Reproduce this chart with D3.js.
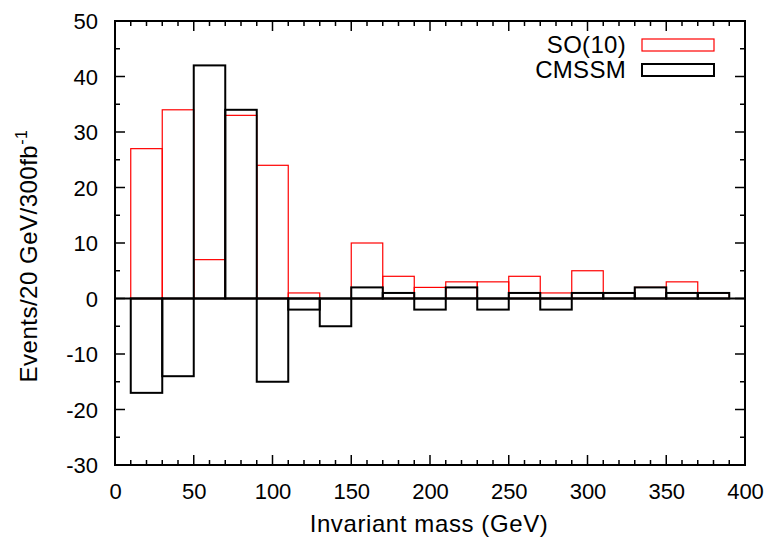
<!DOCTYPE html>
<html>
<head>
<meta charset="utf-8">
<script src="https://cdn.jsdelivr.net/npm/d3@7"></script>
<style>
  body { margin: 0; background: #fff; }
  text { font-family: "Liberation Sans", Arial, sans-serif; fill: #000; }
</style>
</head>
<body>
<div class="chart"></div>
<script>
// bin left edges (GeV), 20 GeV wide
var binStarts = [10, 30, 50, 70, 90, 110, 130, 150, 170, 190, 210, 230, 250, 270, 290, 310, 330, 350, 370];
var so10 = [27, 34, 7, 33, 24, 1, 0, 10, 4, 2, 3, 3, 4, 1, 5, 1, 2, 3, 1];
var cmssm = [-17, -14, 42, 34, -15, -2, -5, 2, 1, -2, 2, -2, 1, -2, 1, 1, 2, 1, 1];
var xTicks = [0, 50, 100, 150, 200, 250, 300, 350, 400];
var yTicks = [-30, -20, -10, 0, 10, 20, 30, 40, 50];
var binWidth = 20;

var svgWidth = 773, svgHeight = 544;
var margin = { top: 21, right: 28, bottom: 79, left: 115 };
var width = svgWidth - margin.left - margin.right;
var height = svgHeight - margin.top - margin.bottom;

var svg = d3.select('.chart')
    .append('svg')
    .attr('width', svgWidth)
    .attr('height', svgHeight);

var chart = svg.append('g')
    .attr('transform', 'translate(' + margin.left + ',' + margin.top + ')');

var x = d3.scaleLinear().domain([0, 400]).range([0, width]);
var y = d3.scaleLinear().domain([-30, 50]).range([height, 0]);

// minor + major ticks on all four sides, pointing inward
var xMinor = d3.range(0, 401, 10);
var yMinor = d3.range(-30, 51, 5);

function drawTicks(cls, vals, isX, major) {
    var len = major ? 10 : 5;
    chart.selectAll('.' + cls)
        .data(vals)
        .enter()
        .append('g')
        .each(function(d) {
            var g = d3.select(this);
            if (isX) {
                g.append('line').attr('x1', x(d)).attr('x2', x(d)).attr('y1', height).attr('y2', height - len);
                g.append('line').attr('x1', x(d)).attr('x2', x(d)).attr('y1', 0).attr('y2', len);
            } else {
                g.append('line').attr('y1', y(d)).attr('y2', y(d)).attr('x1', 0).attr('x2', len);
                g.append('line').attr('y1', y(d)).attr('y2', y(d)).attr('x1', width).attr('x2', width - len);
            }
        })
        .selectAll('line')
        .attr('stroke', '#000')
        .attr('stroke-width', 1.5);
}
drawTicks('xminor', xMinor.filter(function(d) { return d % 50 !== 0; }), true, false);
drawTicks('xmajor', xTicks, true, true);
drawTicks('yminor', yMinor.filter(function(d) { return d % 10 !== 0; }), false, false);
drawTicks('ymajor', yTicks, false, true);

// tick labels via axes, no tick lines; plain hyphen for negatives
var fmt = function(d) { return String(d); };
var bottomAxis = d3.axisBottom(x).tickValues(xTicks).tickFormat(fmt).tickSize(0);
var leftAxis = d3.axisLeft(y).tickValues(yTicks).tickFormat(fmt).tickSize(0);

var gx = chart.append('g').attr('transform', 'translate(0,' + height + ')').call(bottomAxis);
var gy = chart.append('g').call(leftAxis);
[gx, gy].forEach(function(g) {
    g.select('.domain').remove();
    g.selectAll('text')
        .style('font-size', '22px')
        .style('font-family', '"Liberation Sans", Arial, sans-serif');
});
gx.selectAll('text').attr('dy', '0.71em').attr('y', 18);
gy.selectAll('text').attr('x', -17).attr('dy', '0.35em');

// histograms as empty boxes
function drawBoxes(data, color, sw) {
    chart.append('g')
        .selectAll('rect')
        .data(data)
        .enter()
        .append('rect')
        .attr('x', function(d, i) { return x(binStarts[i]); })
        .attr('width', x(binWidth) - x(0))
        .attr('y', function(d) { return y(Math.max(d, 0)); })
        .attr('height', function(d) { return Math.abs(y(d) - y(0)); })
        .attr('fill', 'none')
        .attr('stroke', color)
        .attr('stroke-width', sw);
}
drawBoxes(so10, '#ff0000', 1.2);
drawBoxes(cmssm, '#000000', 2);

// zero line
chart.append('line')
    .attr('x1', 0).attr('x2', width)
    .attr('y1', y(0)).attr('y2', y(0))
    .attr('stroke', '#000').attr('stroke-width', 2);

// frame
chart.append('rect')
    .attr('width', width).attr('height', height)
    .attr('fill', 'none').attr('stroke', '#000').attr('stroke-width', 2);

// legend
var legend = [
    { name: 'SO(10)', color: '#ff0000', sw: 1.2 },
    { name: 'CMSSM', color: '#000000', sw: 2 }
];
var lg = svg.append('g').selectAll('g')
    .data(legend)
    .enter()
    .append('g')
    .attr('transform', function(d, i) { return 'translate(0,' + (45 + i * 25) + ')'; });
lg.append('text')
    .attr('x', 626).attr('y', 0).attr('dy', '0.35em')
    .attr('text-anchor', 'end')
    .style('font-size', '24px')
    .style('letter-spacing', '0.3px')
    .text(function(d) { return d.name; });
lg.append('rect')
    .attr('x', 642).attr('y', -6).attr('width', 72).attr('height', 12)
    .attr('fill', 'none')
    .attr('stroke', function(d) { return d.color; })
    .attr('stroke-width', function(d) { return d.sw; });

// axis titles
svg.append('text')
    .attr('x', 429).attr('y', 532)
    .attr('text-anchor', 'middle')
    .style('font-size', '24px')
    .style('letter-spacing', '0.6px')
    .text('Invariant mass (GeV)');

var yt = svg.append('text')
    .attr('transform', 'translate(37,' + 256 + ') rotate(-90)')
    .attr('text-anchor', 'middle')
    .style('font-size', '24px')
    .style('letter-spacing', '0.5px');
yt.append('tspan').text('Events/20 GeV/300fb');
yt.append('tspan').attr('dy', -10).style('font-size', '16px').text('-1');
</script>
</body>
</html>
